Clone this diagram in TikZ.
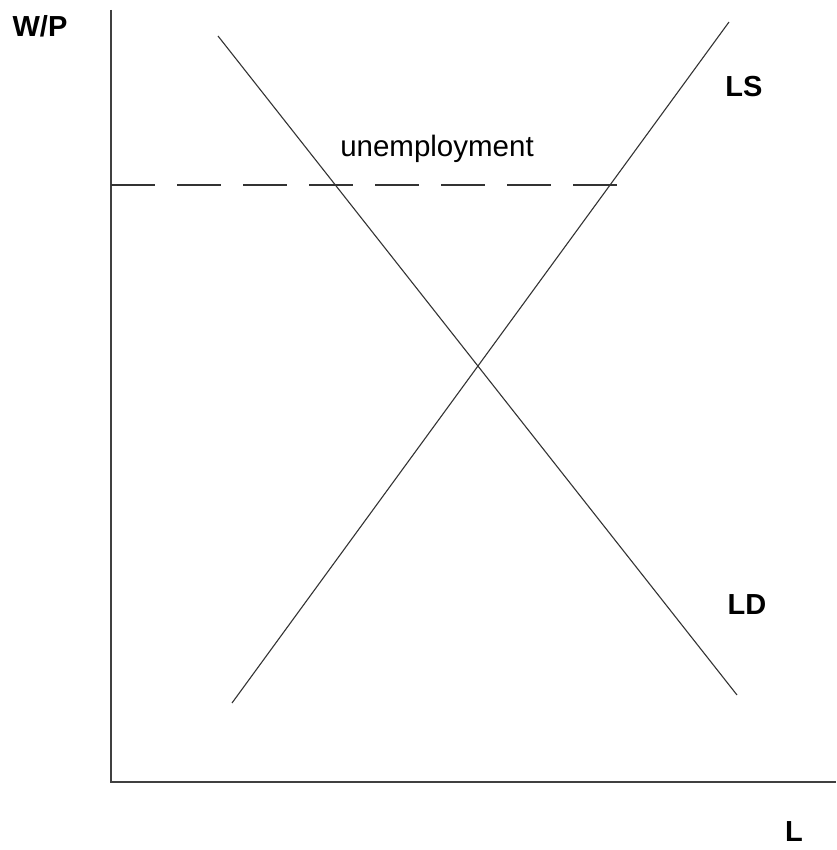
\documentclass[tikz,border=0pt]{standalone}
\usepackage{fontspec}
\setmainfont{Liberation Sans}
\begin{document}
\begin{tikzpicture}[x=1pt,y=-1pt,
  lbl/.style={font=\fontsize{29}{34}\selectfont\bfseries, inner sep=0pt},
  axis/.style={line width=2.2pt, draw=black!75},
  curve/.style={line width=1.1pt, draw=black!80},
  dashline/.style={line width=1.8pt, draw=black!80, dash pattern=on 44pt off 22pt}]
\useasboundingbox (0,0) rectangle (836,850);
\coordinate (top) at (111,10);
\coordinate (origin) at (111,782);
\coordinate (right) at (836,782);
\coordinate (dl) at (111,185);
\coordinate (dr) at (620,185);
\coordinate (ld1) at (218,36);
\coordinate (ld2) at (737,695);
\coordinate (ls1) at (232,703);
\coordinate (ls2) at (729,22);
\draw[axis] (top) -- (origin) -- (right);
\draw[dashline] (dl) -- (dr);
\draw[curve] (ld1) -- (ld2);
\draw[curve] (ls1) -- (ls2);
\node[lbl] (wp) at (40,26) {W/P};
\node[lbl] (ls) at (744,87) {LS};
\node[lbl] (ld) at (747,605) {LD};
\node[lbl] (l) at (794,832) {L};
\node[lbl, font=\fontsize{29.5}{34}\selectfont] (un) at (437,149) {unemployment};
\end{tikzpicture}
\end{document}
